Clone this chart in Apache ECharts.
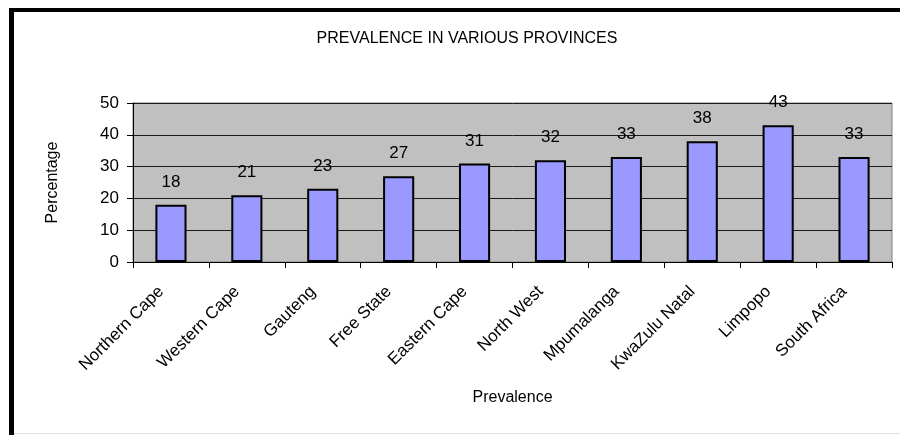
<!DOCTYPE html>
<html>
<head>
<meta charset="utf-8">
<title>Prevalence in various provinces</title>
<script src="https://cdn.jsdelivr.net/npm/echarts@6/dist/echarts.min.js"></script>
<style>
  html, body { margin: 0; padding: 0; background: #fff; }
  #chart { width: 900px; height: 435px; }
</style>
</head>
<body>
<div id="chart"></div>
<script>
// data
const provinces = ['Northern Cape', 'Western Cape', 'Gauteng', 'Free State', 'Eastern Cape',
  'North West', 'Mpumalanga', 'KwaZulu Natal', 'Limpopo', 'South Africa'];
const prevalence = [18, 21, 23, 27, 31, 32, 33, 38, 43, 33];
const yTicks = [0, 10, 20, 30, 40, 50];

const FONT = '"Liberation Sans", Arial, sans-serif';

const chart = echarts.init(document.getElementById('chart'), null, { renderer: 'canvas' });

const option = {
  backgroundColor: '#fff',
  animation: false,
  textStyle: { fontFamily: FONT, color: '#000' },
  title: {
    text: 'PREVALENCE IN VARIOUS PROVINCES',
    left: 462,
    top: 26,
    textAlign: 'center',
    textStyle: { fontFamily: FONT, fontSize: 16, fontWeight: 'normal', color: '#000' }
  },
  // frame of the chart sheet: heavy black edge top and left
  graphic: [
    { type: 'rect', shape: { x: 9, y: 8, width: 891, height: 4 }, style: { fill: '#000' }, silent: true },
    { type: 'rect', shape: { x: 9, y: 8, width: 5, height: 427 }, style: { fill: '#000' }, silent: true },
    { type: 'rect', shape: { x: 14, y: 433, width: 886, height: 1 }, style: { fill: '#e0e0e0' }, silent: true }
  ],
  grid: {
    left: 133,
    right: 8,
    top: 103,
    bottom: 173,
    show: true,
    backgroundColor: '#c0c0c0',
    borderColor: '#808080',
    borderWidth: 1
  },
  xAxis: {
    type: 'category',
    data: provinces,
    name: 'Prevalence',
    nameLocation: 'middle',
    nameGap: 128,
    nameTextStyle: { fontFamily: FONT, fontSize: 16, color: '#000' },
    axisLine: { lineStyle: { color: '#000', width: 1 } },
    axisTick: { show: true, length: 6, inside: false, lineStyle: { color: '#000' } },
    axisLabel: {
      interval: 0,
      rotate: 45,
      margin: 17,
      padding: [0, 14, 0, 0],
      fontFamily: FONT,
      fontSize: 17,
      color: '#000'
    }
  },
  yAxis: {
    type: 'value',
    min: yTicks[0],
    max: yTicks[yTicks.length - 1],
    interval: 10,
    name: 'Percentage',
    nameLocation: 'middle',
    nameGap: 72,
    nameRotate: 90,
    nameTextStyle: { fontFamily: FONT, fontSize: 16, color: '#000' },
    axisLine: { show: true, lineStyle: { color: '#000', width: 1 } },
    axisTick: { show: true, length: 6, inside: false, lineStyle: { color: '#000' } },
    axisLabel: { margin: 14, fontFamily: FONT, fontSize: 17, color: '#000' },
    splitLine: { show: true, lineStyle: { color: '#1a1a1a', width: 1 } }
  },
  series: [{
    type: 'bar',
    data: prevalence,
    barWidth: '41%',
    itemStyle: { color: '#9999ff', borderColor: '#000', borderWidth: 2 },
    label: {
      show: true,
      position: 'top',
      distance: 14,
      fontFamily: FONT,
      fontSize: 17,
      color: '#000'
    }
  }]
};

chart.setOption(option);
</script>
</body>
</html>
